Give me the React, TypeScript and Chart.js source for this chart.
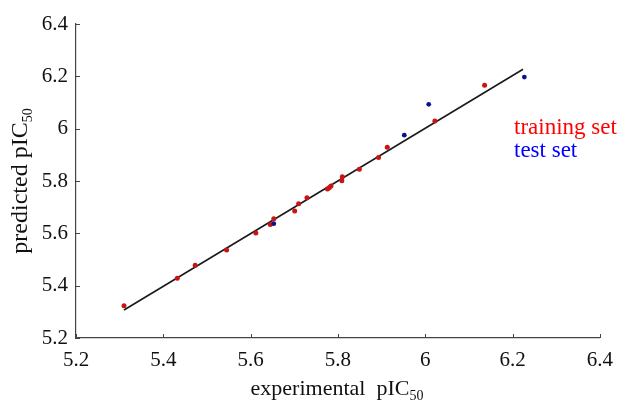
import { useEffect, useRef } from 'react';
import { Chart, registerables } from 'chart.js';

Chart.register(...registerables);

// ---- data ----
const trainX = [5.310, 5.432, 5.473, 5.545, 5.612, 5.645, 5.653, 5.701, 5.710, 5.729, 5.776, 5.780, 5.784, 5.809, 5.810, 5.849, 5.893, 5.913, 6.022, 6.136];
const trainY = [5.323, 5.428, 5.478, 5.536, 5.601, 5.634, 5.656, 5.685, 5.713, 5.736, 5.769, 5.774, 5.781, 5.801, 5.816, 5.845, 5.890, 5.929, 6.029, 6.166];
const testX = [5.653, 5.952, 6.008, 6.227];
const testY = [5.637, 5.975, 6.093, 6.197];
const fitX = [5.310, 6.224];
const fitY = [5.307, 6.227];
const tickValues = [5.2, 5.4, 5.6, 5.8, 6.0, 6.2, 6.4];
const tickLabels = ['5.2', '5.4', '5.6', '5.8', '6', '6.2', '6.4'];
const legendLabels = ['training set', 'test set'];

const FONT = '"Liberation Serif", "Times New Roman", serif';
const AXIS_COLOR = '#444444';

function drawSubText(ctx: CanvasRenderingContext2D, main: string, sub: string, size: number, subSize: number, cx: number, baseline: number) {
  ctx.font = `${size}px ${FONT}`;
  const wMain = ctx.measureText(main).width;
  ctx.font = `${subSize}px ${FONT}`;
  const wSub = ctx.measureText(sub).width;
  const start = cx - (wMain + wSub) / 2;
  ctx.textAlign = 'left';
  ctx.textBaseline = 'alphabetic';
  ctx.font = `${size}px ${FONT}`;
  ctx.fillText(main, start, baseline);
  ctx.font = `${subSize}px ${FONT}`;
  ctx.fillText(sub, start + wMain, baseline + 5);
}

const decorations = {
  id: 'decorations',
  afterDraw(chart: any) {
    const ctx: CanvasRenderingContext2D = chart.ctx;
    const xs = chart.scales.x;
    const ys = chart.scales.y;
    const area = chart.chartArea;
    ctx.save();
    // inward tick marks
    ctx.strokeStyle = AXIS_COLOR;
    ctx.lineWidth = 1;
    ctx.beginPath();
    tickValues.forEach((v) => {
      const px = Math.round(xs.getPixelForValue(v)) + 0.5;
      ctx.moveTo(px, area.bottom);
      ctx.lineTo(px, area.bottom - 4);
      const py = Math.round(ys.getPixelForValue(v)) + 0.5;
      ctx.moveTo(area.left, py);
      ctx.lineTo(area.left + 4, py);
    });
    ctx.stroke();

    // axis titles
    ctx.fillStyle = '#111111';
    drawSubText(ctx, 'experimental  pIC', '50', 22, 14, 337, 395);
    ctx.save();
    ctx.translate(27, 181);
    ctx.rotate(-Math.PI / 2);
    drawSubText(ctx, 'predicted pIC', '50', 24, 14, 0, 0);
    ctx.restore();

    // legend text
    ctx.font = `23px ${FONT}`;
    ctx.textAlign = 'left';
    ctx.textBaseline = 'alphabetic';
    ctx.fillStyle = '#ff0000';
    ctx.fillText(legendLabels[0], 514, 134);
    ctx.fillStyle = '#0000ff';
    ctx.fillText(legendLabels[1], 514, 157);
    ctx.restore();
  },
};

export default function App() {
  const ref = useRef<HTMLCanvasElement | null>(null);

  useEffect(() => {
    document.body.style.margin = '0';
    const canvas = ref.current;
    if (!canvas) return;

    const axisCommon = {
      type: 'linear' as const,
      min: 5.2,
      max: 6.4,
      afterBuildTicks: (s: any) => {
        s.ticks = tickValues.map((v) => ({ value: v }));
      },
      grid: { display: false, drawTicks: false },
      border: { display: true, color: AXIS_COLOR, width: 1.2 },
    };

    const chart = new Chart(canvas, {
      type: 'scatter',
      data: {
        datasets: [
          {
            label: 'fit',
            data: fitX.map((x, i) => ({ x, y: fitY[i] })),
            showLine: true,
            borderColor: '#1a1a1a',
            borderWidth: 1.6,
            pointRadius: 0,
            order: 3,
          },
          {
            label: legendLabels[0],
            data: trainX.map((x, i) => ({ x, y: trainY[i] })),
            backgroundColor: '#c81414',
            borderWidth: 0,
            pointRadius: 2.5,
            order: 1,
          },
          {
            label: legendLabels[1],
            data: testX.map((x, i) => ({ x, y: testY[i] })),
            backgroundColor: '#10108a',
            borderWidth: 0,
            pointRadius: 2.4,
            order: 0,
          },
        ],
      },
      options: {
        animation: false,
        responsive: false,
        layout: { padding: { top: 24, right: 13, left: 0, bottom: 0 } },
        plugins: { legend: { display: false }, tooltip: { enabled: false } },
        scales: {
          x: {
            ...axisCommon,
            position: 'bottom',
            ticks: {
              callback: (_v: any, i: number) => tickLabels[i],
              font: { family: FONT, size: 21 },
              color: '#111111',
              padding: 10,
              maxRotation: 0,
              autoSkip: false,
            },
            afterFit: (s: any) => {
              s.height = 64;
            },
          },
          y: {
            ...axisCommon,
            position: 'left',
            ticks: {
              callback: (_v: any, i: number) => tickLabels[i],
              font: { family: FONT, size: 21 },
              color: '#111111',
              padding: 8,
              autoSkip: false,
            },
            afterFit: (s: any) => {
              s.width = 76;
            },
          },
        },
      },
      plugins: [decorations],
    });

    return () => chart.destroy();
  }, []);

  return (
    <div style={{ width: 623, height: 402 }}>
      <canvas ref={ref} width={623} height={402} style={{ width: 623, height: 402, display: 'block' }} />
    </div>
  );
}
